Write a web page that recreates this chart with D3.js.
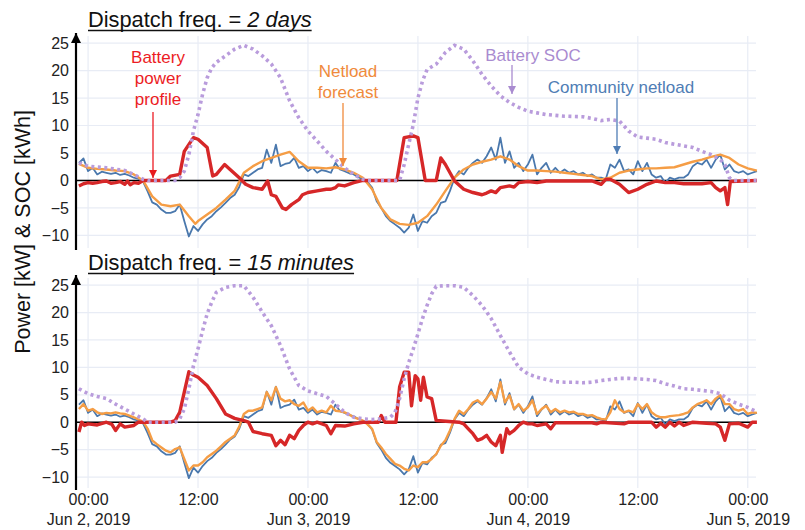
<!DOCTYPE html>
<html><head><meta charset="utf-8">
<script src="https://cdn.jsdelivr.net/npm/d3@7"></script>
<style>
html,body{margin:0;padding:0;background:#fff;}
svg text{font-family:"Liberation Sans",Arial,Helvetica,sans-serif;}
</style></head>
<body><svg id="chart" width="805" height="530"></svg>
<script>
// ---------------- DATA ----------------
// time in hours from Jun 2, 2019 00:00
const halfHours = d3.range(-1, 73.001, 0.5);
const tickHours = [0, 12, 24, 36, 48, 60, 72];
const tickTimes = ["00:00", "12:00", "00:00", "12:00", "00:00", "12:00", "00:00"];
const tickDates = ["Jun 2, 2019", "", "Jun 3, 2019", "", "Jun 4, 2019", "", "Jun 5, 2019"];
const yTicks = [-10, -5, 0, 5, 10, 15, 20, 25];
const panelTitles = [["Dispatch freq. = ", "2 days"], ["Dispatch freq. = ", "15 minutes"]];

// Community netload (actual), 30-min steps from -1 h
const netload = [3.2,4.0,1.7,2.3,1.1,1.6,1.4,1.2,1.4,1.0,1.2,0.9,0.5,0.3,-0.2,-2,-4,-4.4,-5.3,-5.9,
  -5.9,-5.6,-4.4,-7.4,-10.2,-8.3,-9.2,-8,-7.1,-6.5,-5.6,-4.9,-4.1,-3.2,-2.6,-1.2,1.1,0.8,1.4,2.0,
  2.3,5.6,3.2,6.5,2.6,3.0,3.2,4.1,2.3,2.6,1.7,2.3,1.4,1.9,1.7,1.4,3.2,2.0,1.7,1.3,
  1.1,0.6,0.2,-0.3,-1.3,-3.8,-5,-6.5,-7.4,-8,-8.6,-9.5,-8.6,-6.2,-9.2,-7.4,-7.7,-6.5,-5.9,-4.1,
  -3.8,-1.9,0.5,1.7,1.1,2.3,3.2,3.8,3.2,4.4,6,3.8,7.8,3.2,5.3,2.3,3.2,1.7,2.9,4.7,
  1.1,2.3,3.2,1.4,2.3,1.4,2.0,1.4,1.7,1.1,1.4,0.8,1.1,0.5,0.5,0.2,2.9,2.3,3.8,1.7,
  2.0,1.1,3.5,1.7,3.2,1.1,0.5,0.8,-0.4,0.5,0.2,0.5,0.5,1.1,2.6,3.2,2.9,3.8,2.3,3.8,
  4.7,2.0,2.9,1.7,1.4,1.7,1.1,1.4,1.7];

// Netload forecast, 15-minute dispatch (30-min steps from -1 h)
const forecast15 = [2.4,3.3,2.1,2.4,1.8,1.5,1.7,1.6,1.8,1.6,1.5,1.2,0.9,0.5,0.1,-1.2,-3.3,-4,-4.6,-5.2,
  -5.5,-4.9,-4.6,-6.7,-8.8,-7.9,-7.9,-7.3,-6.4,-5.8,-5.2,-4.4,-3.6,-3.0,-2.4,-0.8,1.5,2.1,2.1,2.4,
  2.7,5.5,4,6.4,4.3,3.8,4,3.3,3,3.6,2.1,2.7,1.8,2.1,1.8,3.0,2.1,2.0,1.8,1.4,
  0.9,0.6,0.3,-0.4,-1.2,-3.6,-4.6,-5.8,-6.7,-7.6,-7.9,-8.5,-8.8,-7.9,-8.2,-7.3,-7.3,-6.7,-5.8,-4.3,
  -3.3,-1.5,0.6,2.1,1.5,2.4,3.6,4,3.3,4.3,5.5,4.3,7.3,3.6,4.9,2.4,3.3,2.1,2.7,4,
  1.5,2.4,3,1.8,2.4,1.8,2.1,1.8,1.9,1.5,1.5,1.2,1.3,0.9,0.6,0.5,1.8,4,2.4,1.8,
  2.1,1.8,3.3,2.4,3.3,1.8,1.2,0.9,0.9,1.1,1.2,1.3,1.5,1.8,2.7,3.3,3.6,4,3.3,4.3,
  4.9,3.3,3.3,2.4,2.1,2.4,1.5,1.8,1.7];

// Netload forecast, 2-day dispatch [hour, kW]
const forecast2d = [[-1,3.0],[0,2.3],[1,2.1],[2,2],[3,1.8],[4,1.7],[5,1.1],[6,0],[7,-2.9],[8,-4.4],[9,-4.7],
  [10,-4.4],[11,-6.5],[11.7,-7.9],[12,-7.4],[13,-6.2],[14,-5],[15,-3.5],[16,-1.9],[17,1.4],[18,2.6],[19,3.5],
  [20,4.1],[21,4.7],[22,5.2],[23,3.5],[24,2.3],[25,2.3],[26,2.2],[27,2.4],[28,2],[29,1.4],[30,0.5],[31,-1.6],
  [32,-5],[33,-7.1],[34,-7.9],[35,-8.1],[36,-7.7],[37,-6.5],[38,-4.4],[39,-1.9],[40,0.5],[41,2],[42,2.9],
  [43,3.4],[44,3.8],[45,4.4],[46,3.8],[47,2.6],[48,1.8],[49,1.8],[50,1.7],[51,1.6],[52,1.4],[53,1.2],[54,1],
  [55,0.8],[56,0.2],[57,0.5],[58,1.4],[59,1.8],[60,2],[61,2.2],[62,2.2],[63,2.3],[64,2.4],[65,2.9],[66,3.4],
  [67,3.8],[68,4.3],[69,4.7],[70,4.1],[71,2.9],[72,2.2],[73,1.8]];

// Battery power profile, 2-day dispatch [hour, kW]
const battery2d = [[-1,-1],[-0.5,-0.6],[0,-0.4],[0.5,-0.5],[1,-0.4],[1.5,-0.2],[2,-0.1],[2.5,-0.5],[3,-0.4],
  [3.5,-0.2],[4,-0.7],[4.3,-0.1],[4.6,-0.8],[5,-0.4],[5.5,-0.5],[6,0],[8.5,0],[9,0.8],[10,1.1],[10.5,5.3],
  [11.5,7.8],[12,7.5],[13,6],[13.6,0.8],[14,1.1],[14.9,2.9],[15.5,2.0],[16.5,0.5],[17.2,-0.7],[18,-1.3],[19,-1.6],
  [19.6,-0.1],[20,-2.6],[20.5,-2.9],[21.2,-5],[21.6,-5.3],[22.2,-4.4],[23,-3.5],[23.4,-2.6],[24,-2.2],[25,-1.9],
  [26,-1.6],[26.5,-1.6],[27,-1.3],[27.3,-0.8],[28,-1],[29,-0.4],[30,0],[33.7,0],[34.5,7.8],[35.5,8.1],[36,7.8],
  [36.8,0],[38,0],[38.5,4.1],[39,2.9],[40,-0.1],[41,-1.6],[42,-2.2],[43,-2.6],[43.5,-2.3],[44,-1.9],[44.5,-2.2],
  [45,-1.3],[46,-1],[46.5,-1.2],[47,-0.4],[48,-0.2],[49,-0.4],[50,-0.1],[55,-0.1],[55.5,-0.4],[56,-0.7],
  [56.5,0.2],[57,0.2],[58,-0.7],[59,-2.2],[60,-1.6],[61,-0.7],[62,-0.1],[63,-0.4],[64,-0.4],[65,-0.6],[66,-0.6],
  [67,-0.6],[68,-0.4],[68.5,-1.3],[69,-1.9],[69.5,-1.3],[69.8,-4.4],[70.1,-0.2],[73,0]];

// Battery SOC, 2-day dispatch [hour, kWh]
const soc2d = [[-1,3.2],[0,2.6],[2,2.3],[4,1.8],[5,1.1],[6,0.2],[6.5,0],[9.5,0],[10,0.5],[10.5,1.7],[11,4.7],
  [11.5,9],[12,12],[12.5,15.7],[13,18.7],[13.5,20.5],[14,21.5],[15,22.7],[16,23.9],[17,24.6],[18,23.9],[19,22.7],
  [20,21.2],[21,18.7],[22,14.5],[23,11.4],[24,9],[25,7.2],[26,5.3],[27,3.8],[28,2.3],[29,1.1],[30,0.2],[30.5,0],
  [34,0],[34.5,2.9],[35,6.6],[35.5,10.2],[36,15],[36.5,18.1],[37,20.2],[38,21.2],[39,23.3],[40,24.6],[41,23.9],
  [42,21.8],[43,19.3],[44,17.2],[45,15.4],[46,14.2],[47,13.3],[48,12.6],[49,12.3],[50,12],[52,11.7],[54,11.6],
  [55,11.3],[56,10.9],[57,11.1],[58,10.8],[59,9],[60,7.9],[61,7.7],[62,7.5],[63,6.9],[64,6.6],[65,6.3],[66,6],
  [67,5.3],[68,4.7],[69,3.8],[69.5,2.9],[70,0.5],[70.5,0],[73,0]];

// Battery power profile, 15-minute dispatch [hour, kW]
const battery15 = [[-1,-1.8],[-0.7,0],[-0.4,-0.6],[0,-0.3],[1,-0.5],[2,0],[2.6,-0.4],[3,-1.5],[3.5,-0.3],[4,-0.9],
  [5,-0.6],[5.5,0],[9,0],[9.5,0.3],[10,1.8],[10.5,5.5],[11,9.2],[11.5,8.6],[12,8.2],[13,6.7],[14,4.3],[15,1.5],
  [16,0.7],[17,0.3],[17.5,0],[18,-1.7],[19,-2.1],[20,-2.4],[20.5,-4.3],[21,-3.3],[21.5,-4.1],[22,-2.4],[22.5,-3],
  [23,-1.5],[23.5,-0.6],[24,0],[24.5,-0.3],[25,0],[26,-0.6],[26.5,-2.1],[27,-0.6],[28,-0.7],[29,-0.3],[30,0],
  [31.7,0],[32,1.2],[32.4,0],[33.6,0],[34,6.4],[34.5,9.1],[35,9.1],[35.3,3],[35.7,8.5],[36,7.9],[36.3,4],
  [36.6,8.2],[37,4.6],[37.5,4.3],[38,0.3],[40.5,0],[41,-0.3],[41.5,-1.2],[42,-2.1],[42.5,-3.3],[43,-3],
  [43.5,-2.4],[44,-3.6],[44.5,-4.3],[45,-2.4],[45.2,-5.5],[45.7,-1.2],[46,-2.1],[46.5,-1.5],[47,-0.6],
  [47.5,0],[48,-0.3],[48.5,-0.3],[49,-0.6],[50,-0.3],[50.5,-1.2],[51,-0.1],[55,-0.1],[55.5,-0.3],[56,0],
  [58.5,-0.3],[59,0],[61.5,0],[62,-0.9],[62.5,-0.2],[63,-0.9],[63.5,0],[64,-0.7],[64.5,0],[65,-0.6],[66,0],
  [67.5,-0.2],[68.5,-0.3],[69,-0.9],[69.5,-3.3],[70,-0.3],[71,-0.2],[72,-0.9],[72.5,0],[73,0]];

// Battery SOC, 15-minute dispatch [hour, kWh]
const soc15 = [[-1,6.1],[0,5.2],[1,4.7],[2,4.3],[3,3.3],[4,2.4],[5,1.5],[6,0.6],[6.5,0],[9.5,0],[10,0.6],[10.5,2.4],
  [11,6.1],[11.5,10.3],[12,13.4],[12.5,16.7],[13,19.8],[13.5,21.9],[14,23.7],[15,24.6],[16,24.9],[17,24.9],
  [18,22.8],[19,20.1],[20,17.6],[21,14],[22,9.7],[23,6.7],[24,5.7],[25,5.2],[26,4.7],[27,3.3],[28,1.8],[29,0.9],
  [30,0.6],[31,0.5],[32,0.6],[33,0.9],[33.5,1.8],[34,4.3],[34.5,7.9],[35,10.9],[35.5,13.4],[36,16.1],[36.5,18.9],
  [37,21.3],[37.5,23.4],[38,24.8],[39,24.9],[40,24.9],[41,24.6],[42,23.1],[43,21.3],[44,18.9],[45,15.8],[46,12.8],
  [47,10],[48,8.8],[49,8.2],[50,7.8],[51,7.4],[52,7.3],[53,7.3],[54,7.2],[55,7.3],[56,7.6],[57,7.8],[58,8],[59,8],
  [60,7.9],[61,7.8],[62,7.6],[63,7],[64,6.6],[65,6.1],[66,6],[67,5.8],[68,5.6],[69,5.2],[70,4],[71,3.3],[72,2.7],
  [73,1.9]];

// ---------------- CHART ----------------
const svg = d3.select("#chart");
const COL = {red:"#d62728", orange:"#f59d45", blue:"#4a78ad", purple:"#b99cdc", grid:"#e8ecf5"};

const x = d3.scaleLinear().domain([-1.1, 72.9]).range([78, 756]);
const panels = [
  {top:36, bottom:248, ydom:[-12.3, 26.3], titleY:27, fc: forecast2d, bat: battery2d, soc: soc2d, fcHalf:false},
  {top:278, bottom:488, ydom:[-12.0, 26.3], titleY:270, fc: forecast15, bat: battery15, soc: soc15, fcHalf:true}
];

const defs = svg.append("defs");
function marker(id, color, w, h) {
  defs.append("marker").attr("id", id).attr("viewBox", "0 0 10 10").attr("refX", 10).attr("refY", 5)
    .attr("markerWidth", w).attr("markerHeight", h).attr("markerUnits", "userSpaceOnUse").attr("orient", "auto")
    .append("path").attr("d", "M0,0 L10,5 L0,10 z").attr("fill", color);
}
marker("axArrow", "#000", 12, 10);
marker("aRed", "#e8191e", 9, 8);
marker("aOrange", "#f08a3c", 9, 8);
marker("aPurple", "#a98bd0", 9, 8);
marker("aBlue", "#4f7db5", 9, 8);

panels.forEach((p, i) => {
  const y = d3.scaleLinear().domain(p.ydom).range([p.bottom, p.top]);
  const g = svg.append("g");

  // grid
  g.selectAll(".hg").data(yTicks).join("line")
    .attr("x1", 77).attr("x2", 756).attr("y1", d => y(d)).attr("y2", d => y(d))
    .attr("stroke", COL.grid).attr("stroke-width", 1.2);
  g.selectAll(".vg").data(tickHours).join("line")
    .attr("x1", d => x(d)).attr("x2", d => x(d)).attr("y1", p.top).attr("y2", p.bottom)
    .attr("stroke", COL.grid).attr("stroke-width", 1.2);

  // y tick labels via axis
  const ya = g.append("g").attr("transform", "translate(76,0)")
    .call(d3.axisLeft(y).tickValues(yTicks).tickSize(0).tickPadding(7));
  ya.select(".domain").remove();
  ya.selectAll("text").attr("font-size", 16).attr("fill", "#222")
    .style("font-family", '"Liberation Sans",Arial,sans-serif');

  // zero line
  g.append("line").attr("x1", 77).attr("x2", 756).attr("y1", y(0)).attr("y2", y(0))
    .attr("stroke", "#000").attr("stroke-width", 1.5);

  const lineXY = d3.line().x(d => x(d[0])).y(d => y(d[1]));
  const lineHalf = d3.line().x((d, k) => x(halfHours[k])).y(d => y(d));

  // community netload
  g.append("path").datum(netload).attr("d", lineHalf).attr("fill", "none")
    .attr("stroke", COL.blue).attr("stroke-width", 1.8).attr("stroke-linejoin", "round");
  // forecast
  g.append("path").datum(p.fc).attr("d", p.fcHalf ? lineHalf : lineXY).attr("fill", "none")
    .attr("stroke", COL.orange).attr("stroke-width", 2.4).attr("stroke-linejoin", "round");
  // battery power
  g.append("path").datum(p.bat).attr("d", lineXY).attr("fill", "none")
    .attr("stroke", COL.red).attr("stroke-width", 3.4).attr("stroke-linejoin", "round");
  // SOC
  g.append("path").datum(p.soc).attr("d", lineXY).attr("fill", "none")
    .attr("stroke", COL.purple).attr("stroke-width", 3.6).attr("stroke-dasharray", "3,3.5");

  // y axis with arrow
  g.append("line").attr("x1", 76).attr("x2", 76).attr("y1", p.bottom + 2).attr("y2", p.top - 3)
    .attr("stroke", "#000").attr("stroke-width", 2.2).attr("marker-end", "url(#axArrow)");

  // title
  const t = svg.append("text").attr("x", 88).attr("y", p.titleY).attr("font-size", 21.8).attr("fill", "#111");
  t.append("tspan").text(panelTitles[i][0]);
  t.append("tspan").attr("font-style", "italic").text(panelTitles[i][1]);
  const bb = t.node().getBBox();
  svg.append("line").attr("x1", bb.x).attr("x2", bb.x + bb.width).attr("y1", p.titleY + 3.5).attr("y2", p.titleY + 3.5)
    .attr("stroke", "#111").attr("stroke-width", 1.5);

  // x labels on bottom panel
  if (i === 1) {
    const xa = svg.append("g").attr("transform", `translate(0,${p.bottom})`)
      .call(d3.axisBottom(x).tickValues(tickHours).tickSize(0).tickPadding(0).tickFormat((d, k) => tickTimes[k]));
    xa.select(".domain").remove();
    xa.selectAll("text").attr("font-size", 16).attr("fill", "#222").attr("dy", null).attr("y", 17)
      .style("font-family", '"Liberation Sans",Arial,sans-serif');
    xa.selectAll(".tick").append("text").attr("y", 37).attr("fill", "#222").attr("font-size", 16)
      .attr("text-anchor", "middle").style("font-family", '"Liberation Sans",Arial,sans-serif')
      .text((d, k) => tickDates[k]);
  }
});

// y label
svg.append("text").attr("transform", "translate(30,232) rotate(-90)").attr("text-anchor", "middle")
  .attr("font-size", 21.5).attr("fill", "#111").text("Power [kW] & SOC [kWh]");

// annotations (top panel)
function note(lines, xx, y0, color, anchor) {
  const t = svg.append("text").attr("font-size", 17).attr("fill", color).attr("text-anchor", anchor);
  lines.forEach((s, k) => t.append("tspan").attr("x", xx).attr("y", y0 + k * 21).text(s));
}
function arrow(xx, y1, y2, color, m) {
  svg.append("line").attr("x1", xx).attr("x2", xx).attr("y1", y1).attr("y2", y2)
    .attr("stroke", color).attr("stroke-width", 1.3).attr("marker-end", `url(#${m})`);
}
note(["Battery", "power", "profile"], 158, 63, "#ec1c24", "middle");
arrow(153, 112, 178, "#ec1c24", "aRed");
note(["Netload", "forecast"], 348, 77, "#f08a3c", "middle");
arrow(343, 103, 166, "#f08a3c", "aOrange");
note(["Battery SOC"], 533, 61, "#a98bd0", "middle");
arrow(512, 65, 94, "#a98bd0", "aPurple");
note(["Community netload"], 621, 93, "#4f7db5", "middle");
arrow(617, 98, 154, "#4f7db5", "aBlue");
</script></body></html>
